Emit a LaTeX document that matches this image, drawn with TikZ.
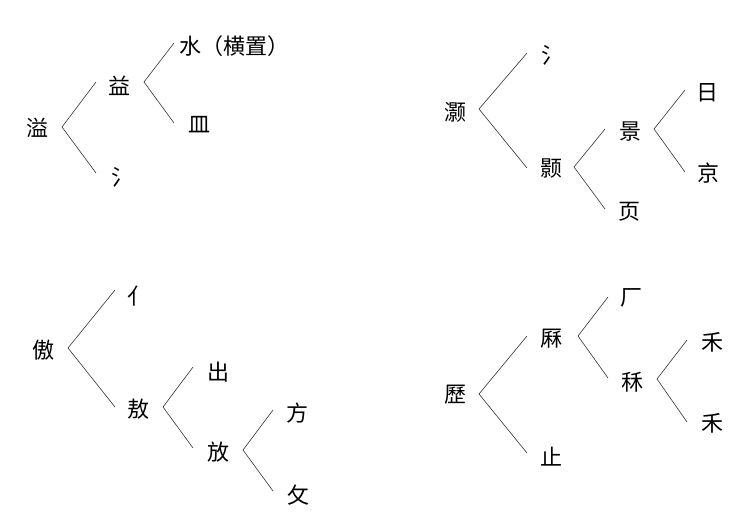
\documentclass[tikz,border=0pt]{standalone}
\usepackage{fontspec}
\newfontfamily\cjk{Noto Sans CJK SC}
\tikzset{
  ch/.style={inner sep=0pt, font=\cjk\fontsize{22}{22}\selectfont, text=black},
  br/.style={draw=black!80, line width=0.6pt}
}
\begin{document}
\begin{tikzpicture}[x=1pt,y=-1pt]
\useasboundingbox (0,0) rectangle (756,523);
% Tree 1
\node[ch] (t1a) at (38,128) {溢};
\node[ch] (t1b) at (119,86) {益};
\node[ch] (t1c) at (122,177) {氵};
\node[ch,anchor=west] (t1d) at (179,46) {水（横置）};
\node[ch] (t1e) at (199,125) {皿};
\coordinate (v1a) at (62,127); \coordinate (e1a) at (96,82); \coordinate (e1b) at (96,173);
\coordinate (v1b) at (144,82); \coordinate (e1c) at (174,43); \coordinate (e1d) at (174,123);
\draw[br] (e1a) -- (v1a) -- (e1b);
\draw[br] (e1c) -- (v1b) -- (e1d);
% Tree 2
\node[ch] (t2a) at (455,112) {灏};
\node[ch] (t2b) at (552,55) {氵};
\node[ch] (t2c) at (551,169) {颢};
\node[ch] (t2d) at (630,132) {景};
\node[ch] (t2e) at (629,212) {页};
\node[ch] (t2f) at (707,93) {日};
\node[ch] (t2g) at (708,173) {京};
\coordinate (v2a) at (479,109); \coordinate (e2a) at (527,53); \coordinate (e2b) at (527,168);
\coordinate (v2b) at (574,167); \coordinate (e2c) at (605,129); \coordinate (e2d) at (605,209);
\coordinate (v2c) at (654,129); \coordinate (e2e) at (685,90); \coordinate (e2f) at (685,172);
\draw[br] (e2a) -- (v2a) -- (e2b);
\draw[br] (e2c) -- (v2b) -- (e2d);
\draw[br] (e2e) -- (v2c) -- (e2f);
% Tree 3
\node[ch] (t3a) at (43,350) {傲};
\node[ch] (t3b) at (138,296) {亻};
\node[ch] (t3c) at (138,409) {敖};
\node[ch] (t3d) at (218,372) {出};
\node[ch] (t3e) at (218,452) {放};
\node[ch] (t3f) at (297,413) {方};
\node[ch] (t3g) at (298,495) {攵};
\coordinate (v3a) at (68,348); \coordinate (e3a) at (115,290); \coordinate (e3b) at (115,407);
\coordinate (v3b) at (163,407); \coordinate (e3c) at (193,367); \coordinate (e3d) at (193,448);
\coordinate (v3c) at (243,450); \coordinate (e3e) at (273,410); \coordinate (e3f) at (273,491);
\draw[br] (e3a) -- (v3a) -- (e3b);
\draw[br] (e3c) -- (v3b) -- (e3d);
\draw[br] (e3e) -- (v3c) -- (e3f);
% Tree 4
\node[ch] (t4a) at (455,395) {歷};
\node[ch] (t4b) at (551,339) {厤};
\node[ch] (t4c) at (551,457) {止};
\node[ch] (t4d) at (631,298) {厂};
\node[ch] (t4e) at (632,382) {秝};
\node[ch] (t4f) at (712,342) {禾};
\node[ch] (t4g) at (712,423) {禾};
\coordinate (v4a) at (479,394); \coordinate (e4a) at (527,336); \coordinate (e4b) at (527,453);
\coordinate (v4b) at (578,336); \coordinate (e4c) at (608,297); \coordinate (e4d) at (608,378);
\coordinate (v4c) at (657,379); \coordinate (e4e) at (687,340); \coordinate (e4f) at (687,422);
\draw[br] (e4a) -- (v4a) -- (e4b);
\draw[br] (e4c) -- (v4b) -- (e4d);
\draw[br] (e4e) -- (v4c) -- (e4f);
\end{tikzpicture}
\end{document}
